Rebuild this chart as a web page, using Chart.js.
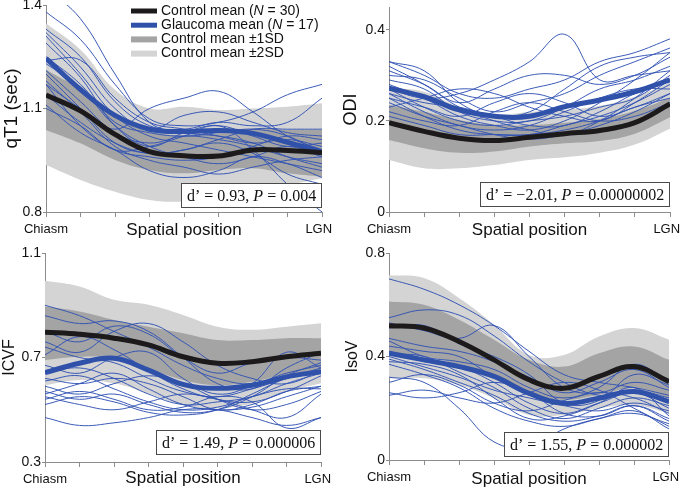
<!DOCTYPE html>
<html>
<head>
<meta charset="utf-8">
<script src="https://cdn.jsdelivr.net/npm/chart.js@4.4.1/dist/chart.umd.min.js"></script>
<style>
  body { margin: 0; background: #fff; }
  #wrap { position: relative; width: 680px; height: 490px; background: #fff; }
  canvas { position: absolute; }
</style>
</head>
<body>
<div id="wrap">
  <canvas id="cQt1" width="340" height="245" style="left:0;top:0"></canvas>
  <canvas id="cOdi" width="340" height="245" style="left:340px;top:0"></canvas>
  <canvas id="cIcvf" width="340" height="245" style="left:0;top:245px"></canvas>
  <canvas id="cIsov" width="340" height="245" style="left:340px;top:245px"></canvas>
</div>
<script>
// ---- data ----
const positions = [0, 1, 2, 3, 4, 5, 6, 7, 8];
const xTickLabels = ['Chiasm', 'LGN'];
const xTitle = 'Spatial position';
const legendRows = [
  ['Control mean (', 'N', ' = 30)'],
  ['Glaucoma mean (', 'N', ' = 17)'],
  ['Control mean \u00b11SD', '', ''],
  ['Control mean \u00b12SD', '', '']
];

// qT1
const qt1YTicks = [0.8, 1.1, 1.4];
const qt1Control = [1.139, 1.093, 1.025, 0.975, 0.963, 0.962, 0.980, 0.978, 0.972];
const qt1Glaucoma = [1.245, 1.155, 1.080, 1.040, 1.033, 1.036, 1.028, 1.002, 0.975];
const qt1Sd1Hi = [1.212, 1.154, 1.076, 1.033, 1.023, 1.028, 1.042, 1.038, 1.038];
const qt1Sd1Lo = [1.038, 0.999, 0.951, 0.922, 0.912, 0.922, 0.927, 0.912, 0.902];
const qt1Sd2Hi = [1.347, 1.270, 1.154, 1.100, 1.105, 1.096, 1.100, 1.105, 1.115];
const qt1Sd2Lo = [0.936, 0.893, 0.859, 0.835, 0.830, 0.840, 0.859, 0.878, 0.898];
const qt1Subjects = [
  [1.38, 1.30, 1.17, 1.07, 1.05, 1.06, 1.09, 1.14, 1.17],
  [1.33, 1.25, 1.12, 1.05, 1.04, 1.06, 1.05, 1.06, 1.13],
  [1.32, 1.22, 1.10, 1.04, 1.08, 1.09, 1.06, 1.03, 1.02],
  [1.31, 1.20, 1.08, 1.02, 1.00, 0.98, 0.96, 0.94, 0.92],
  [1.29, 1.19, 1.05, 0.99, 1.03, 1.05, 1.02, 0.99, 1.00],
  [1.25, 1.17, 1.06, 1.03, 1.02, 1.03, 1.04, 1.02, 0.97],
  [1.24, 1.24, 1.13, 1.06, 1.04, 1.02, 1.00, 1.01, 0.99],
  [1.23, 1.16, 1.05, 0.99, 0.96, 0.94, 0.96, 0.99, 0.96],
  [1.21, 1.12, 1.03, 1.00, 1.02, 1.01, 0.99, 0.96, 0.94],
  [1.20, 1.10, 1.00, 0.97, 0.98, 1.01, 1.04, 1.04, 1.04],
  [1.18, 1.09, 0.99, 0.95, 0.93, 0.91, 0.93, 0.95, 0.96],
  [1.17, 1.05, 0.98, 0.96, 0.95, 0.96, 0.99, 1.02, 1.01],
  [1.17, 1.10, 1.04, 1.10, 1.13, 1.15, 1.09, 1.02, 0.98],
  [1.14, 1.06, 1.00, 0.97, 0.98, 1.00, 0.97, 0.91, 0.88],
  [1.45, 1.36, 1.20, 1.06, 1.03, 1.02, 1.00, 0.96, 0.93],
  [1.11, 1.03, 0.98, 0.92, 0.90, 0.92, 0.96, 0.94, 0.90],
  [1.10, 1.05, 0.98, 0.99, 1.02, 1.05, 0.98, 0.88, 0.80]
];

// ODI
const odiYTicks = [0, 0.2, 0.4];
const odiControl = [0.196, 0.177, 0.162, 0.157, 0.164, 0.172, 0.179, 0.196, 0.237];
const odiGlaucoma = [0.272, 0.253, 0.224, 0.210, 0.210, 0.231, 0.246, 0.264, 0.290];
const odiSd1Hi = [0.235, 0.220, 0.202, 0.191, 0.191, 0.196, 0.204, 0.222, 0.250];
const odiSd1Lo = [0.158, 0.140, 0.130, 0.133, 0.144, 0.151, 0.156, 0.172, 0.208];
const odiSd2Hi = [0.272, 0.264, 0.231, 0.213, 0.220, 0.224, 0.233, 0.253, 0.284];
const odiSd2Lo = [0.114, 0.096, 0.096, 0.103, 0.114, 0.120, 0.130, 0.148, 0.183];
const odiSubjects = [
  [0.33, 0.30, 0.26, 0.25, 0.27, 0.29, 0.33, 0.35, 0.38],
  [0.33, 0.31, 0.24, 0.21, 0.22, 0.27, 0.32, 0.34, 0.35],
  [0.31, 0.28, 0.24, 0.27, 0.30, 0.30, 0.28, 0.30, 0.34],
  [0.30, 0.29, 0.25, 0.22, 0.24, 0.26, 0.30, 0.33, 0.36],
  [0.27, 0.25, 0.26, 0.29, 0.33, 0.39, 0.29, 0.30, 0.31],
  [0.29, 0.27, 0.22, 0.20, 0.20, 0.23, 0.27, 0.29, 0.32],
  [0.28, 0.25, 0.21, 0.19, 0.18, 0.20, 0.24, 0.29, 0.35],
  [0.27, 0.23, 0.20, 0.19, 0.20, 0.21, 0.23, 0.25, 0.30],
  [0.26, 0.24, 0.23, 0.21, 0.19, 0.19, 0.22, 0.26, 0.29],
  [0.26, 0.22, 0.19, 0.18, 0.19, 0.22, 0.25, 0.27, 0.27],
  [0.25, 0.23, 0.21, 0.24, 0.26, 0.24, 0.21, 0.23, 0.26],
  [0.25, 0.21, 0.18, 0.17, 0.17, 0.19, 0.21, 0.24, 0.28],
  [0.24, 0.21, 0.19, 0.17, 0.16, 0.17, 0.19, 0.22, 0.26],
  [0.23, 0.25, 0.27, 0.26, 0.23, 0.21, 0.20, 0.24, 0.29],
  [0.22, 0.20, 0.19, 0.22, 0.24, 0.22, 0.20, 0.21, 0.24],
  [0.21, 0.19, 0.17, 0.17, 0.17, 0.18, 0.20, 0.23, 0.25],
  [0.32, 0.28, 0.23, 0.20, 0.18, 0.17, 0.20, 0.25, 0.31]
];

// ICVF
const icvfYTicks = [0.3, 0.7, 1.1];
const icvfControl = [0.797, 0.789, 0.774, 0.748, 0.703, 0.678, 0.684, 0.703, 0.716];
const icvfGlaucoma = [0.642, 0.678, 0.697, 0.652, 0.597, 0.582, 0.594, 0.626, 0.646];
const icvfSd1Hi = [0.895, 0.876, 0.844, 0.818, 0.793, 0.767, 0.767, 0.774, 0.774];
const icvfSd1Lo = [0.690, 0.703, 0.697, 0.658, 0.614, 0.594, 0.607, 0.633, 0.639];
const icvfSd2Hi = [0.994, 0.972, 0.921, 0.902, 0.863, 0.818, 0.806, 0.818, 0.831];
const icvfSd2Lo = [0.594, 0.614, 0.601, 0.562, 0.518, 0.505, 0.524, 0.569, 0.601];
const icvfSubjects = [
  [0.90, 0.86, 0.80, 0.74, 0.67, 0.62, 0.60, 0.64, 0.67],
  [0.86, 0.83, 0.84, 0.80, 0.70, 0.60, 0.58, 0.66, 0.72],
  [0.80, 0.76, 0.82, 0.79, 0.70, 0.64, 0.68, 0.70, 0.69],
  [0.76, 0.72, 0.80, 0.83, 0.76, 0.67, 0.62, 0.60, 0.65],
  [0.74, 0.70, 0.68, 0.62, 0.57, 0.55, 0.58, 0.62, 0.66],
  [0.71, 0.78, 0.73, 0.65, 0.58, 0.54, 0.53, 0.57, 0.63],
  [0.67, 0.64, 0.70, 0.72, 0.62, 0.56, 0.60, 0.72, 0.66],
  [0.64, 0.66, 0.62, 0.56, 0.52, 0.53, 0.55, 0.60, 0.64],
  [0.62, 0.60, 0.62, 0.60, 0.55, 0.50, 0.52, 0.57, 0.59],
  [0.61, 0.63, 0.58, 0.53, 0.50, 0.51, 0.55, 0.58, 0.58],
  [0.59, 0.56, 0.60, 0.63, 0.60, 0.54, 0.50, 0.52, 0.57],
  [0.57, 0.54, 0.56, 0.52, 0.49, 0.50, 0.55, 0.63, 0.68],
  [0.56, 0.60, 0.64, 0.58, 0.52, 0.50, 0.51, 0.55, 0.59],
  [0.55, 0.52, 0.50, 0.53, 0.56, 0.54, 0.50, 0.47, 0.56],
  [0.54, 0.57, 0.54, 0.50, 0.51, 0.55, 0.53, 0.43, 0.47],
  [0.52, 0.55, 0.53, 0.49, 0.48, 0.50, 0.56, 0.62, 0.65],
  [0.47, 0.44, 0.45, 0.47, 0.50, 0.50, 0.47, 0.44, 0.47]
];

// IsoV
const isovYTicks = [0, 0.4, 0.8];
const isovControl = [0.519, 0.510, 0.458, 0.387, 0.310, 0.277, 0.323, 0.361, 0.303];
const isovGlaucoma = [0.413, 0.387, 0.361, 0.323, 0.258, 0.219, 0.239, 0.265, 0.226];
const isovSd1Hi = [0.613, 0.600, 0.542, 0.465, 0.387, 0.361, 0.413, 0.439, 0.387];
const isovSd1Lo = [0.406, 0.400, 0.368, 0.316, 0.252, 0.232, 0.252, 0.277, 0.239];
const isovSd2Hi = [0.714, 0.703, 0.626, 0.523, 0.406, 0.406, 0.477, 0.510, 0.465];
const isovSd2Lo = [0.316, 0.316, 0.290, 0.239, 0.174, 0.174, 0.200, 0.213, 0.181];
const isovSubjects = [
  [0.70, 0.66, 0.60, 0.52, 0.42, 0.33, 0.30, 0.28, 0.25],
  [0.55, 0.58, 0.56, 0.48, 0.38, 0.30, 0.25, 0.26, 0.22],
  [0.53, 0.50, 0.47, 0.52, 0.40, 0.28, 0.26, 0.30, 0.27],
  [0.51, 0.52, 0.45, 0.40, 0.33, 0.22, 0.23, 0.33, 0.29],
  [0.47, 0.44, 0.42, 0.38, 0.32, 0.26, 0.30, 0.35, 0.28],
  [0.46, 0.40, 0.38, 0.35, 0.28, 0.24, 0.28, 0.37, 0.30],
  [0.44, 0.42, 0.40, 0.32, 0.25, 0.22, 0.24, 0.27, 0.24],
  [0.42, 0.38, 0.36, 0.30, 0.22, 0.18, 0.22, 0.26, 0.20],
  [0.41, 0.40, 0.34, 0.28, 0.20, 0.16, 0.20, 0.24, 0.21],
  [0.40, 0.36, 0.32, 0.27, 0.24, 0.21, 0.19, 0.22, 0.19],
  [0.39, 0.35, 0.30, 0.25, 0.18, 0.15, 0.17, 0.21, 0.15],
  [0.38, 0.37, 0.33, 0.24, 0.16, 0.17, 0.22, 0.28, 0.17],
  [0.37, 0.33, 0.28, 0.20, 0.15, 0.13, 0.16, 0.19, 0.12],
  [0.32, 0.30, 0.20, 0.07, 0.05, 0.12, 0.16, 0.18, 0.14],
  [0.30, 0.33, 0.29, 0.22, 0.19, 0.23, 0.26, 0.24, 0.18],
  [0.26, 0.24, 0.26, 0.30, 0.26, 0.18, 0.17, 0.21, 0.16],
  [0.25, 0.27, 0.24, 0.22, 0.26, 0.30, 0.27, 0.20, 0.13]
];

const statD = ['0.93', '\u22122.01', '1.49', '1.55'];
const statP = ['0.004', '0.00000002', '0.000006', '0.000002'];

// ---- styles ----
const ctrlColor = '#1c1a1a';
const glauColor = '#2f51a9';
const subjColor = 'rgba(48, 82, 180, 0.95)';
const sd1Color = '#a4a4a4';
const sd2Color = '#d4d4d4';
const axisColor = '#8c8c8c';
const SANS = '"Liberation Sans", Arial, Helvetica, sans-serif';
const SERIF = '"Liberation Serif", "Times New Roman", serif';

function series(arr) {
  return positions.map((x, i) => ({ x: x, y: arr[i] }));
}

// boxed d' / P annotation, right-aligned in the plot
const statBox = {
  id: 'statBox',
  afterDatasetsDraw(chart, args, opts) {
    const { ctx, chartArea } = chart;
    const font = '16px ' + SERIF;
    const parts = [['d\u2019 = ' + opts.d + ', ', font], ['P', 'italic ' + font], [' = ' + opts.p, font]];
    ctx.save();
    let w = 0;
    parts.forEach(p => { ctx.font = p[1]; w += ctx.measureText(p[0]).width; });
    const bw = Math.round(w + 12), bh = 25;
    const x0 = chartArea.right - bw, y0 = chartArea.bottom - opts.gap - bh;
    ctx.fillStyle = '#fff';
    ctx.fillRect(x0, y0, bw, bh);
    ctx.strokeStyle = '#4a4a4a';
    ctx.lineWidth = 1;
    ctx.strokeRect(x0 + 0.5, y0 + 0.5, bw - 1, bh - 1);
    ctx.fillStyle = '#111';
    ctx.textBaseline = 'middle';
    let x = x0 + 6;
    parts.forEach(p => {
      ctx.font = p[1];
      ctx.fillText(p[0], x, y0 + bh / 2 + 1);
      x += ctx.measureText(p[0]).width;
    });
    ctx.restore();
  }
};

// legend drawn inside the first panel
const panelLegend = {
  id: 'panelLegend',
  afterDatasetsDraw(chart, args, opts) {
    if (!opts.show) return;
    const { ctx } = chart;
    const swatch = [[ctrlColor, 5], [glauColor, 5], [sd1Color, 6], [sd2Color, 6]];
    const font = '14px ' + SANS;
    ctx.save();
    ctx.textBaseline = 'middle';
    legendRows.forEach((row, i) => {
      const y = 11 + i * 14.2;
      ctx.strokeStyle = swatch[i][0];
      ctx.lineWidth = swatch[i][1];
      ctx.beginPath();
      ctx.moveTo(131, y);
      ctx.lineTo(157, y);
      ctx.stroke();
      let x = 161;
      ctx.fillStyle = '#111';
      [[row[0], font], [row[1], 'italic ' + font], [row[2], font]].forEach(p => {
        if (!p[0]) return;
        ctx.font = p[1];
        ctx.fillText(p[0], x, y);
        x += ctx.measureText(p[0]).width;
      });
    });
    ctx.restore();
  }
};

function buildPanel(id, p) {
  const datasets = [];
  datasets.push({ data: series(p.control), borderColor: ctrlColor, borderWidth: 5 });
  datasets.push({ data: series(p.glaucoma), borderColor: glauColor, borderWidth: 5 });
  p.subjects.forEach(s => {
    datasets.push({ data: series(s), borderColor: subjColor, borderWidth: 1 });
  });
  datasets.push({ data: series(p.sd1Hi), borderColor: 'transparent', borderWidth: 0, fill: '+1', backgroundColor: sd1Color });
  datasets.push({ data: series(p.sd1Lo), borderColor: 'transparent', borderWidth: 0 });
  datasets.push({ data: series(p.sd2Hi), borderColor: 'transparent', borderWidth: 0, fill: '+1', backgroundColor: sd2Color });
  datasets.push({ data: series(p.sd2Lo), borderColor: 'transparent', borderWidth: 0 });

  const lastPos = positions[positions.length - 1];

  return new Chart(document.getElementById(id), {
    type: 'line',
    data: { datasets: datasets },
    plugins: [statBox, panelLegend],
    options: {
      responsive: false,
      animation: false,
      events: [],
      layout: { padding: { left: 0, right: 340 - p.right, top: p.top, bottom: 0 } },
      elements: {
        point: { radius: 0 },
        line: { tension: 0.4, fill: false, borderCapStyle: 'butt' }
      },
      plugins: {
        legend: { display: false },
        tooltip: { enabled: false },
        statBox: { d: p.d, p: p.p, gap: p.gap },
        panelLegend: { show: !!p.legend }
      },
      scales: {
        x: {
          type: 'linear',
          min: positions[0],
          max: lastPos,
          afterBuildTicks: s => { s.ticks = positions.map(v => ({ value: v })); },
          afterFit: s => { s.height = 245 - p.bottom; s.paddingLeft = 0; s.paddingRight = 0; },
          ticks: {
            autoSkip: false,
            maxRotation: 0,
            padding: 5,
            color: '#111',
            font: { family: SANS, size: 13 },
            // en space keeps "LGN" inside the page edge like the original
            callback: v => v === positions[0] ? xTickLabels[0] : (v === lastPos ? xTickLabels[1] + '\u2002' : '')
          },
          grid: { drawOnChartArea: false, tickLength: 5, color: axisColor },
          border: { color: axisColor, width: 1 },
          title: {
            display: true,
            text: xTitle,
            color: '#111',
            font: { family: SANS, size: 17 },
            padding: { top: 0, bottom: p.xTitlePad }
          }
        },
        y: {
          min: p.yTicks[0],
          max: p.yMax,
          afterBuildTicks: s => { s.ticks = p.yTicks.map(v => ({ value: v })); },
          afterFit: s => { s.width = p.left; s.paddingTop = 0; s.paddingBottom = 0; },
          ticks: {
            padding: 1,
            color: '#111',
            font: { family: SANS, size: 14 },
            callback: v => v === 0 ? '0' : v.toFixed(1)
          },
          grid: { drawOnChartArea: false, tickLength: 3, color: axisColor },
          border: { color: axisColor, width: 1 },
          title: {
            display: true,
            text: p.yTitle,
            color: '#111',
            font: { family: SANS, size: p.yTitleSize },
            padding: { top: p.yTitlePad, bottom: 0 }
          }
        }
      }
    }
  });
}

buildPanel('cQt1', {
  control: qt1Control, glaucoma: qt1Glaucoma, subjects: qt1Subjects,
  sd1Hi: qt1Sd1Hi, sd1Lo: qt1Sd1Lo, sd2Hi: qt1Sd2Hi, sd2Lo: qt1Sd2Lo,
  yTicks: qt1YTicks, yMax: 1.4, yTitle: 'qT1 (sec)', yTitleSize: 19, yTitlePad: 0,
  left: 46, right: 322, top: 5, bottom: 212, xTitlePad: 4.8,
  d: statD[0], p: statP[0], gap: 4, legend: true
});
buildPanel('cOdi', {
  control: odiControl, glaucoma: odiGlaucoma, subjects: odiSubjects,
  sd1Hi: odiSd1Hi, sd1Lo: odiSd1Lo, sd2Hi: odiSd2Hi, sd2Lo: odiSd2Lo,
  yTicks: odiYTicks, yMax: 0.45, yTitle: 'ODI', yTitleSize: 18, yTitlePad: 0,
  left: 49, right: 330, top: 7, bottom: 212, xTitlePad: 4.1,
  d: statD[1], p: statP[1], gap: 5
});
buildPanel('cIcvf', {
  control: icvfControl, glaucoma: icvfGlaucoma, subjects: icvfSubjects,
  sd1Hi: icvfSd1Hi, sd1Lo: icvfSd1Lo, sd2Hi: icvfSd2Hi, sd2Lo: icvfSd2Lo,
  yTicks: icvfYTicks, yMax: 1.1, yTitle: 'ICVF', yTitleSize: 16, yTitlePad: 0,
  left: 45, right: 321, top: 8, bottom: 217, xTitlePad: 1.8,
  d: statD[2], p: statP[2], gap: 7
});
buildPanel('cIsov', {
  control: isovControl, glaucoma: isovGlaucoma, subjects: isovSubjects,
  sd1Hi: isovSd1Hi, sd1Lo: isovSd1Lo, sd2Hi: isovSd2Hi, sd2Lo: isovSd2Lo,
  yTicks: isovYTicks, yMax: 0.8, yTitle: 'IsoV', yTitleSize: 16, yTitlePad: 3,
  left: 49, right: 329, top: 8, bottom: 215, xTitlePad: 0.8,
  d: statD[3], p: statP[3], gap: 3
});
</script>
</body>
</html>
